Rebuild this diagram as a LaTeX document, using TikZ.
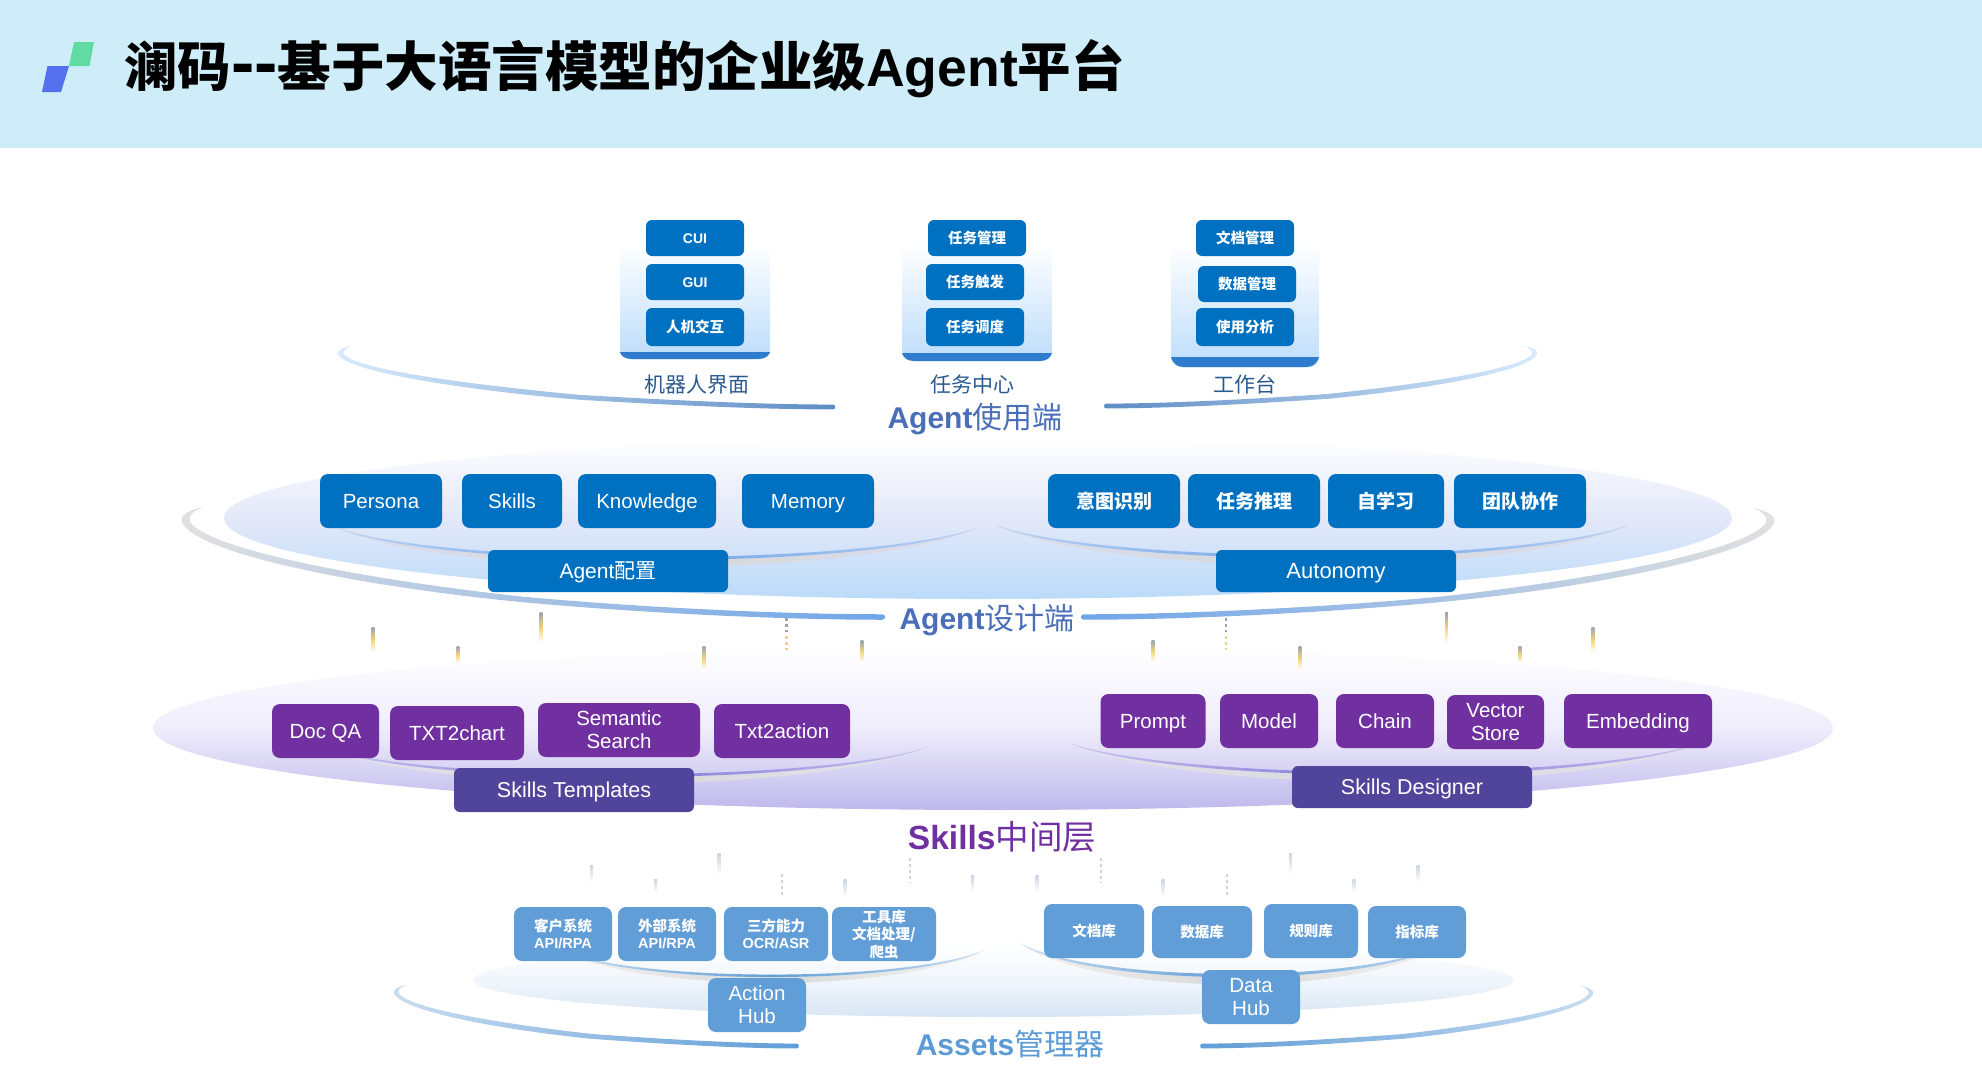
\documentclass[tikz,border=0pt]{standalone}
\usepackage{fontspec}
\setmainfont{Noto Sans CJK SC}
\newfontfamily\latinfont{Liberation Sans}
\usepackage{xcolor}
\usetikzlibrary{
    calc,
    positioning,
}
\definecolor{headerBlue}{HTML}{CEEDF8}
\definecolor{logoGreen}{HTML}{60DBA2}
\definecolor{logoBlue}{HTML}{5470EE}
\definecolor{useBlue}{HTML}{0070C0}
\definecolor{bandBlue}{HTML}{2F7CCF}
\definecolor{panelBlue}{HTML}{BDDDFB}
\definecolor{skillPurple}{HTML}{7030A0}
\definecolor{hubPurple}{HTML}{50459B}
\definecolor{assetBlue}{HTML}{619DD6}
\definecolor{caption}{HTML}{2A5A90}
\definecolor{titleBlue}{HTML}{4A6FB8}
\definecolor{titleAsset}{HTML}{5B9BD5}
\definecolor{designMid}{HTML}{E3E8F9}
\definecolor{designLow}{HTML}{BBDBF9}
\definecolor{skillMid}{HTML}{EFEDFB}
\definecolor{skillLow}{HTML}{BFB8EC}
\definecolor{assetMid}{HTML}{F1F6FB}
\definecolor{assetLow}{HTML}{D8E6F5}
\definecolor{tickGray}{HTML}{9AA3B5}
\definecolor{tickYellow}{HTML}{F2D27A}
\definecolor{tickPale}{HTML}{CBD5E3}
\definecolor{plateLine}{HTML}{6FA5E8}
\definecolor{plateViolet}{HTML}{7F78D8}

% Tapered curve under a layer
\def \swoosh#1#2#3#4#5#6#7{
    \begin{scope}[shift={(#1,#2)},xscale=#3,yscale=#4]
        \shade[left color=#6,right color=#7] (30,0) .. controls (8,3) and (-4,8) .. (0,14)
            .. controls (20,42) and (250,72) .. (486,84+#5)
            .. controls (650,96) and (850,100+#5) .. (1000,100+#5)
            .. controls (1006,100+#5) and (1006,100-#5) .. (1000,100-#5)
            .. controls (850,100-#5) and (650,96-2*#5) .. (486,84-#5)
            .. controls (250,70-2*#5) and (40,38) .. (12,14)
            .. controls (8,9) and (14,4) .. (30,0) -- cycle;
    \end{scope}
}
% Thin plate under a row of boxes
\def \plate#1#2#3#4#5#6{
    \begin{scope}[shift={(#1,#2)},xscale=#3,yscale=#4]
        \shade[left color=black!5!#5,right color=black!5!#5,middle color=black!15] (0,0) .. controls (60,60) and (250,122) .. (500,122)
            .. controls (750,122) and (940,60) .. (1000,0)
            .. controls (940,45) and (750,98) .. (500,98)
            .. controls (250,98) and (60,45) .. (0,0) -- cycle;
        \shade[left color=#6!35!#5,right color=#6!35!#5,middle color=#6] (0,0) .. controls (60,55) and (250,100) .. (500,100)
            .. controls (750,100) and (940,55) .. (1000,0)
            .. controls (940,46) and (750,91) .. (500,91)
            .. controls (250,91) and (60,46) .. (0,0) -- cycle;
    \end{scope}
}
% Panel behind the three columns on top
\def \panel#1#2#3#4#5{
    \shade[top color=white,bottom color=panelBlue,rounded corners=10pt] (#1,#3) rectangle (#2,#5);
    \fill[bandBlue] (#1,#4) -- (#2,#4) .. controls (#2-1,#4+4) and (#2-5,#5) .. (#2-12,#5)
        -- (#1+12,#5) .. controls (#1+5,#5) and (#1+1,#4+4) .. (#1,#4) -- cycle;
}
\def \tick#1#2#3{
    \shade[top color=tickGray,bottom color=white,middle color=tickYellow] (#1-1.4,#2) rectangle (#1+1.4,#3);
}
\def \paletick#1#2#3{
    \shade[top color=tickPale,bottom color=white] (#1-1.5,#2) rectangle (#1+1.5,#3);
}

\begin{document}
\begin{tikzpicture}[x=1pt,y=-1pt]

    \tikzstyle{commonNode}=[align=center, inner sep=0pt, rounded corners=6pt, text=white]
    \tikzstyle{useBox}=[commonNode, fill=useBlue, minimum width=98pt, minimum height=36pt, font=\fontsize{14.5}{16}\selectfont\bfseries]
    \tikzstyle{useLatin}=[useBox, text height=12.5pt, text depth=2pt, font=\latinfont\fontsize{14}{16}\selectfont\bfseries]
    \tikzstyle{designBox}=[commonNode, fill=useBlue, rounded corners=8pt, minimum height=54pt, text height=17pt, text depth=2.4pt, font=\latinfont\fontsize{20.5}{23}\selectfont]
    \tikzstyle{intentBox}=[designBox, font=\fontsize{19}{21}\selectfont\bfseries]
    \tikzstyle{designHub}=[commonNode, fill=useBlue, minimum width=240pt, minimum height=42pt, text height=18pt, text depth=2.6pt, font=\fontsize{21}{23}\selectfont]
    \tikzstyle{skillBox}=[commonNode, fill=skillPurple, rounded corners=8pt, minimum height=54pt, font=\latinfont\fontsize{20.5}{23}\selectfont]
    \tikzstyle{skillLine}=[skillBox, text height=17pt, text depth=2.4pt]
    \tikzstyle{skillHub}=[commonNode, fill=hubPurple, minimum width=240pt, minimum height=42pt, text height=18pt, text depth=2.6pt, font=\latinfont\fontsize{21.5}{23}\selectfont]
    \tikzstyle{assetBox}=[commonNode, fill=assetBlue, rounded corners=8pt, minimum height=54pt, font=\fontsize{14.5}{17.5}\selectfont\bfseries]
    \tikzstyle{assetHub}=[commonNode, fill=assetBlue, rounded corners=8pt, minimum width=98pt, minimum height=54pt, font=\latinfont\fontsize{20.5}{23}\selectfont]
    \tikzstyle{columnLabel}=[inner sep=0pt, text=caption, font=\fontsize{21}{23}\selectfont]
    \tikzstyle{layerLabel}=[inner sep=0pt, font=\fontsize{30}{32}\selectfont]

    \useasboundingbox (0,0) rectangle (1982,1082);

    % Header
    \fill[headerBlue] (0,0) rectangle (1982,148);
    \fill[logoGreen] (74,42) -- (94,42) -- (89.5,66) -- (69,66) -- cycle;
    \fill[logoBlue] (47.5,66) -- (69,66) -- (61,92) -- (42,92) -- cycle;
    \node at (124,69) [anchor=west, inner sep=0pt, font=\fontsize{53.5}{55}\selectfont\bfseries] (Title) {澜码{\latinfont\fontsize{70}{70}\selectfont --}基于大语言模型的企业级{\latinfont Agent}平台};

    % Use layer
    \panel{620}{770}{243}{352}{359}
    \panel{902}{1052}{243}{353}{361}
    \panel{1171}{1319}{243}{357}{367}
    \swoosh{338}{346}{.495}{.61}{4}{panelBlue!60}{plateLine!85!black}
    \swoosh{1537}{346}{-.431}{.60}{4}{plateLine!85!black}{panelBlue!60}

    \node at (695,238) [useLatin] (CUI) {CUI};
    \node at (695,282) [useLatin] (GUI) {GUI};
    \node at (695,327) [useBox, minimum height=38pt] (HCI) {人机交互};
    \node at (977,238) [useBox] (TaskMgmt) {任务管理};
    \node at (975,282) [useBox] (TaskTrig) {任务触发};
    \node at (975,327) [useBox, minimum height=38pt] (TaskSched) {任务调度};
    \node at (1245,238) [useBox] (DocMgmt) {文档管理};
    \node at (1247,284) [useBox] (DataMgmt) {数据管理};
    \node at (1245,327) [useBox, minimum height=38pt] (UseStat) {使用分析};
    \node at (697,385) [columnLabel] (BotUI) {机器人界面};
    \node at (972,385) [columnLabel] (TaskCenter) {任务中心};
    \node at (1245,384) [columnLabel] (Desk) {工作台};
    \node at (975,419) [layerLabel, text=titleBlue] (UseLayer) {{\latinfont\bfseries Agent}使用端};

    % Design layer
    \shade[top color=white, bottom color=designLow, middle color=designMid] (978,518) ellipse [x radius=754, y radius=81];
    \swoosh{182}{507}{.70}{1.10}{2.5}{black!12}{plateLine}
    \swoosh{1774}{508}{-.69}{1.09}{2.5}{plateLine}{black!12}
    \plate{338}{528}{.638}{.32}{designMid}{plateLine}
    \plate{996}{525}{.632}{.33}{designMid}{plateLine}

    \node at (381,501) [designBox, minimum width=122pt] (Persona) {Persona};
    \node at (512,501) [designBox, minimum width=100pt] (SkillsBox) {Skills};
    \node at (647,501) [designBox, minimum width=138pt] (Knowledge) {Knowledge};
    \node at (808,501) [designBox, minimum width=132pt] (Memory) {Memory};
    \node at (1114,501) [intentBox, minimum width=132pt] (Intent) {意图识别};
    \node at (1254,501) [intentBox, minimum width=132pt] (Reason) {任务推理};
    \node at (1386,501) [intentBox, minimum width=116pt] (SelfLearn) {自学习};
    \node at (1520,501) [intentBox, minimum width=132pt] (Team) {团队协作};
    \node at (608,571) [designHub] (AgentCfg) {{\latinfont Agent}配置};
    \node at (1336,571) [designHub, font=\latinfont\fontsize{22}{23}\selectfont] (Autonomy) {Autonomy};
    \node at (987,620) [layerLabel, text=titleBlue] (DesignLayer) {{\latinfont\bfseries Agent}设计端};

    % Skills layer
    \shade[top color=white, bottom color=skillLow, middle color=skillMid] (993,728) ellipse [x radius=840, y radius=82];
    \plate{322}{747}{.605}{.30}{skillMid}{plateViolet}
    \plate{1070}{743}{.629}{.32}{skillMid}{plateViolet}

    % Ticks between design and skills
    \tick{373}{627}{652}
    \tick{458}{646}{663}
    \tick{541}{612}{643}
    \tick{704}{646}{670}
    \draw[tickGray, line width=2.6pt, dash pattern=on 3pt off 3pt] (786.5,618) -- (786.5,632);
    \draw[tickYellow, line width=2.6pt, dash pattern=on 3pt off 3pt] (786.5,636) -- (786.5,650);
    \tick{862}{640}{662}
    \tick{1153}{640}{662}
    \draw[tickGray, line width=2.6pt, dash pattern=on 3pt off 3pt] (1226,618) -- (1226,632);
    \draw[tickYellow, line width=2.6pt, dash pattern=on 3pt off 3pt] (1226,636) -- (1226,650);
    \tick{1300}{646}{670}
    \tick{1446.5}{612}{643}
    \tick{1520}{646}{663}
    \tick{1593}{627}{652}

    \node at (325.5,731) [skillLine, minimum width=107pt] (DocQA) {Doc QA};
    \node at (457,733) [skillLine, minimum width=134pt] (TxtChart) {TXT2chart};
    \node at (619,730) [skillBox, minimum width=162pt, minimum height=54pt] (Semantic) {Semantic\\Search};
    \node at (782,731) [skillLine, minimum width=136pt] (TxtAction) {Txt2action};
    \node at (1153,721) [skillLine, minimum width=105pt] (Prompt) {Prompt};
    \node at (1269,721) [skillLine, minimum width=98pt] (Model) {Model};
    \node at (1385,721) [skillLine, minimum width=98pt] (Chain) {Chain};
    \node at (1495.5,722) [skillBox, minimum width=97pt] (Vector) {Vector\\Store};
    \node at (1638,721) [skillLine, minimum width=148pt] (Embedding) {Embedding};
    \node at (574,790) [skillHub, minimum height=44pt] (Templates) {Skills Templates};
    \node at (1412,787) [skillHub] (Designer) {Skills Designer};
    \node at (1002,837) [layerLabel, text=skillPurple, font=\fontsize{33.5}{35}\selectfont] (SkillsLayer) {{\latinfont\bfseries Skills}中间层};

    % Ticks between skills and assets
    \paletick{591.5}{865}{882}
    \paletick{655.5}{879}{892}
    \paletick{719}{853}{875}
    \draw[tickPale, line width=2.6pt, dash pattern=on 3pt off 3pt] (782,874) -- (782,895);
    \paletick{845}{879}{897}
    \draw[tickPale, line width=2.6pt, dash pattern=on 3pt off 3pt] (910,858) -- (910,883);
    \paletick{972.5}{875}{892}
    \paletick{1037}{875}{892}
    \draw[tickPale, line width=2.6pt, dash pattern=on 3pt off 3pt] (1101,858) -- (1101,883);
    \paletick{1163}{879}{897}
    \draw[tickPale, line width=2.6pt, dash pattern=on 3pt off 3pt] (1227,874) -- (1227,895);
    \paletick{1290.5}{853}{875}
    \paletick{1354}{879}{892}
    \paletick{1418}{865}{882}

    % Assets layer
    \shade[top color=white, bottom color=assetLow, middle color=assetMid] (993.5,980) ellipse [x radius=520, y radius=37];
    \swoosh{394}{985}{.403}{.61}{4}{assetBlue!35}{assetBlue}
    \swoosh{1593}{986}{-.391}{.60}{4}{assetBlue}{assetBlue!35}
    \plate{560}{950}{.424}{.27}{white}{assetBlue}
    \plate{1020}{943}{.425}{.34}{white}{assetBlue}

    \node at (563,934) [assetBox, minimum width=98pt] (Client) {客户系统\\{\latinfont API/RPA}};
    \node at (667,934) [assetBox, minimum width=98pt] (External) {外部系统\\{\latinfont API/RPA}};
    \node at (776,934) [assetBox, minimum width=104pt] (Third) {三方能力\\{\latinfont OCR/ASR}};
    \node at (884,934) [assetBox, minimum width=104pt] (Tools) {工具库\\文档处理/\\爬虫};
    \node at (1094,931) [assetBox, minimum width=100pt] (DocLib) {文档库};
    \node at (1202,932) [assetBox, minimum width=100pt, minimum height=52pt] (DataLib) {数据库};
    \node at (1311,931) [assetBox, minimum width=94pt] (RuleLib) {规则库};
    \node at (1417,932) [assetBox, minimum width=98pt, minimum height=52pt] (MetricLib) {指标库};
    \node at (757,1005) [assetHub] (ActionHub) {Action\\Hub};
    \node at (1251,997) [assetHub] (DataHub) {Data\\Hub};
    \node at (1010,1044) [layerLabel, text=titleAsset] (AssetLayer) {{\latinfont\bfseries Assets}管理器};

\end{tikzpicture}
\end{document}
